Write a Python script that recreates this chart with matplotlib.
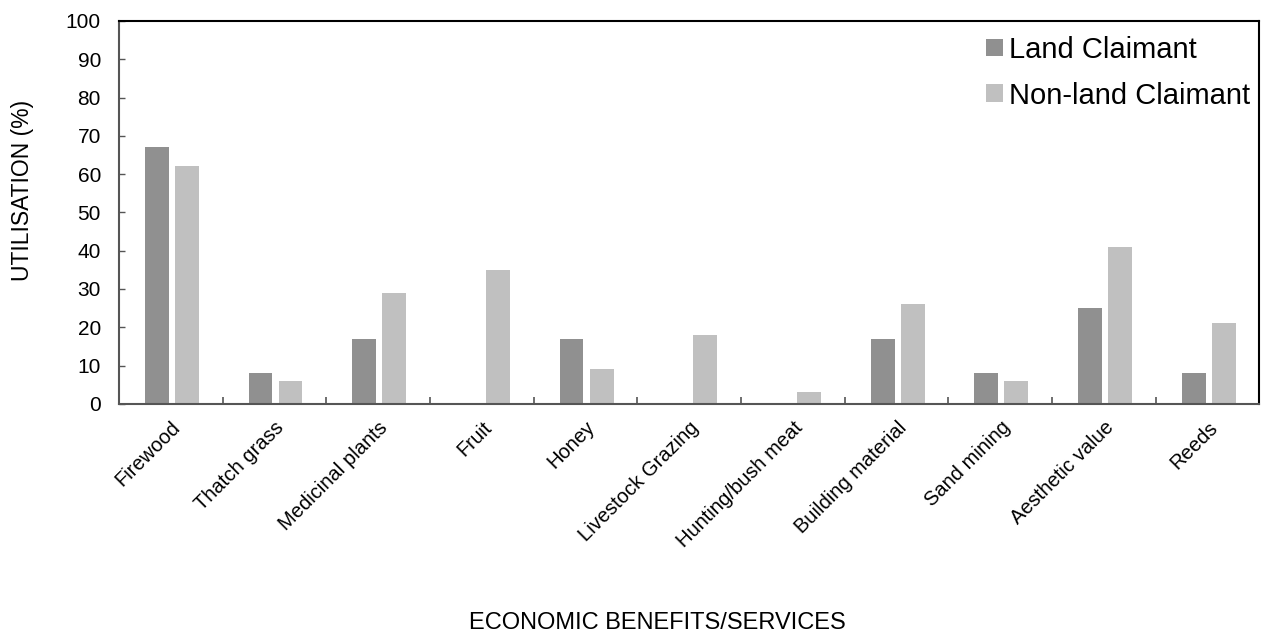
import matplotlib.pyplot as plt
import numpy as np

plt.rcParams['font.family'] = ['Liberation Sans', 'DejaVu Sans']

# Data
categories = ["Firewood", "Thatch grass", "Medicinal plants", "Fruit", "Honey",
              "Livestock Grazing", "Hunting/bush meat", "Building material",
              "Sand mining", "Aesthetic value", "Reeds"]
land_claimant = [67, 8, 17, 0, 17, 0, 0, 17, 8, 25, 8]
non_land_claimant = [62, 6, 29, 35, 9, 18, 3, 26, 6, 41, 21]

fig = plt.figure(figsize=(12.63, 6.35), dpi=100)
ax = fig.add_axes([0.0942, 0.364, 0.903, 0.603])

x = np.arange(len(categories))
w = 0.23
ax.bar(x - 0.135, land_claimant, w, color="#909090", label="Land Claimant")
ax.bar(x + 0.155, non_land_claimant, w, color="#c0c0c0", label="Non-land Claimant")

ax.set_xlim(-0.5, len(categories) - 0.5)
ax.set_ylim(0, 100)
ax.set_yticks(range(0, 101, 10))
ax.tick_params(axis='y', direction='in', length=4, width=1, color="#555555",
               labelsize=15, pad=13)

# category labels at group centres, tick marks at group boundaries
ax.set_xticks(x)
ax.set_xticklabels(categories, rotation=45, ha='right', rotation_mode='anchor', fontsize=14.5)
ax.tick_params(axis='x', which='major', length=0, pad=10)
ax.set_xticks(np.arange(0.5, len(categories) - 0.5), minor=True)
ax.tick_params(axis='x', which='minor', direction='in', length=5, width=1.2, color="#555555")

for side in ['left', 'bottom']:
    ax.spines[side].set_color("#555555")
    ax.spines[side].set_linewidth(1.5)
for side in ['top', 'right']:
    ax.spines[side].set_color("black")
    ax.spines[side].set_linewidth(1.5)

leg = ax.legend(loc='upper right', frameon=False, fontsize=21, handlelength=0.6,
                handleheight=0.55, handletextpad=0.2, labelspacing=0.6,
                borderpad=0, borderaxespad=0,
                bbox_to_anchor=(1250 / 1263, 1 - 36 / 635), bbox_transform=fig.transFigure)

fig.text(657 / 1263, 1 - 623 / 635, "ECONOMIC BENEFITS/SERVICES", ha='center', va='center', fontsize=17)
fig.text(23 / 1263, 1 - 190 / 635, "UTILISATION (%)", ha='center', va='center', rotation=90, fontsize=16.5)

fig.savefig("out.png", dpi=100)
